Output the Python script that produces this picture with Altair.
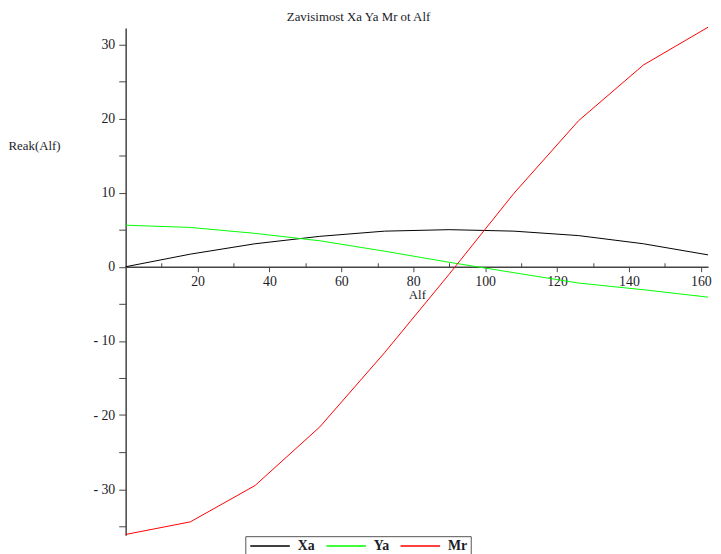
import altair as alt
import pandas as pd

alf = [0, 18, 36, 54, 72, 90, 108, 126, 144, 162]
xa = [0.0, 1.7, 3.1, 4.1, 4.8, 5.0, 4.8, 4.2, 3.1, 1.6]
ya = [5.6, 5.3, 4.5, 3.5, 2.1, 0.6, -0.8, -2.2, -3.1, -4.1]
mr = [-36.1, -34.4, -29.5, -21.6, -11.6, -1.0, 9.9, 19.7, 27.2, 32.3]

series_names = ["Xa", "Ya", "Mr"]
series_colors = ["#000000", "#00ff00", "#ff0000"]

x_major = [20, 40, 60, 80, 100, 120, 140, 160]
x_minor = [10, 30, 50, 70, 90, 110, 130, 150]
y_ticks = [-35, -30, -25, -20, -15, -10, -5, 0, 5, 10, 15, 20, 25, 30]

rows = []
for name, vals in zip(series_names, [xa, ya, mr]):
    for a, v in zip(alf, vals):
        rows.append({"Alf": a, "value": v, "series": name})
df = pd.DataFrame(rows)

W, H = 589, 513
YMIN, YMAX = -36.2, 32.2
zero_px = H * YMAX / (YMAX - YMIN)

FONT = "Liberation Serif"
TXT = "#1c1c28"

xscale = alt.Scale(domain=[0, 162], nice=False, zero=False)
yscale = alt.Scale(domain=[YMIN, YMAX], nice=False, zero=False)

yaxis = alt.Axis(
    values=y_ticks,
    labelExpr="datum.value % 10 != 0 ? '' : (datum.value < 0 ? '- ' + abs(datum.value) : datum.label)",
    grid=False, tickSize=7, labelPadding=4, domainColor="#444", domainWidth=1.5,
    tickColor="#444", labelFont=FONT, labelFontSize=14, labelColor=TXT,
    title="Reak(Alf)", titleAngle=0, titleAlign="left", titleBaseline="middle",
    titleX=-119, titleY=119, titleFont=FONT, titleFontSize=13, titleFontWeight="normal",
    titleColor=TXT,
)

lines = alt.Chart(df).mark_line(strokeWidth=1).encode(
    x=alt.X("Alf:Q", scale=xscale, axis=alt.Axis(
        values=x_major, orient="bottom", offset=-(H - zero_px), grid=False,
        tickSize=5, labelPadding=3, domainColor="#444", domainWidth=1.5, tickColor="#444",
        labelFont=FONT, labelFontSize=14, labelColor=TXT, labelFlush=False,
        title="Alf", titleFont=FONT, titleFontSize=13, titleFontWeight="normal",
        titleColor=TXT, titlePadding=0)),
    y=alt.Y("value:Q", scale=yscale, axis=yaxis),
    color=alt.Color("series:N", scale=alt.Scale(domain=series_names, range=series_colors),
                    sort=series_names,
                    legend=alt.Legend(title=None, orient="none", legendX=121, legendY=514,
                                      direction="horizontal", symbolType="M-4,0H4",
                                      symbolSize=100, symbolStrokeWidth=1.5,
                                      symbolOffset=15, labelOffset=21,
                                      strokeColor="#555", padding=3, columnPadding=8,
                                      labelFont=FONT, labelFontSize=14, labelFontWeight="bold",
                                      labelColor=TXT)),
    detail="series:N",
)

minor = alt.Chart(df).mark_line(strokeOpacity=0).encode(
    x=alt.X("Alf:Q", scale=xscale, axis=alt.Axis(
        values=x_minor, orient="top", offset=-zero_px, grid=False, domain=False,
        tickSize=4, labels=False, tickColor="#444", title=None)),
    y=alt.Y("value:Q", scale=yscale, axis=yaxis),
    detail="series:N",
)

chart = alt.layer(lines, minor).resolve_axis(x="independent").properties(
    width=W, height=H,
    autosize=alt.AutoSizeParams(type="none"),
    padding={"left": 119, "top": 17, "right": 5, "bottom": 30},
    title=alt.TitleParams("Zavisimost Xa Ya Mr ot Alf", font=FONT, fontSize=13,
                          fontWeight="normal", color=TXT, offset=1, dx=-59),
).configure_view(stroke=None)

chart.save("out.html", embed_options={"renderer": "svg", "actions": False})
